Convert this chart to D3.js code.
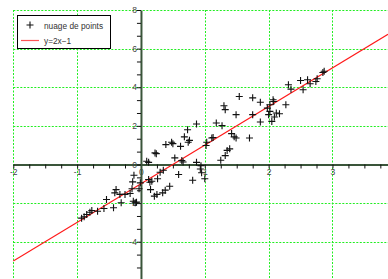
<!DOCTYPE html>
<html><head><meta charset="utf-8">
<script src="https://cdn.jsdelivr.net/npm/d3@7"></script>
<style>body{margin:0;background:#fff}svg{display:block}</style>
</head><body>
<script>
const ptsX = [-0.93,-0.89,-0.85,-0.80,-0.77,-0.68,-0.58,-0.54,-0.43,-0.39,-0.41,-0.33,-0.31,-0.25,-0.17,-0.09,-0.07,-0.11,-0.13,-0.03,-0.12,-0.01,-0.14,
  0.09,0.12,0.22,0.24,0.39,0.50,0.48,0.62,0.74,0.53,0.66,0.87,0.64,0.94,0.93,0.95,0.81,1.00,0.59,0.35,0.30,0.26,0.12,0.14,0.17,0.45,0.38,0.34,0.25,0.15,0.21,
  0.87,0.73,0.68,0.76,1.02,1.13,1.11,1.03,1.18,1.27,1.42,1.46,1.49,1.70,1.39,1.35,1.32,1.25,1.30,1.32,1.54,1.49,1.75,1.87,1.75,1.87,
  2.07,2.08,2.02,1.98,2.02,2.12,2.17,2.00,2.09,2.05,2.27,2.31,2.35,2.50,2.61,2.65,2.74,2.54,2.76,2.85,2.87];
const ptsY = [-2.78,-2.71,-2.59,-2.47,-2.38,-2.42,-2.28,-1.81,-2.24,-1.30,-1.47,-1.55,-1.98,-1.55,-1.50,-1.98,-1.95,-0.56,-0.90,-1.26,-1.90,-0.95,-1.26,
  0.17,0.11,0.60,0.56,1.03,1.08,1.15,0.94,1.15,0.34,0.13,0.11,0.20,-0.06,-0.23,-0.43,-0.82,-0.74,-0.52,-0.30,-0.40,-0.74,-0.78,-0.92,-0.87,-1.13,-1.33,-1.47,-1.55,-1.30,-1.64,
  2.10,1.80,1.43,1.25,0.98,1.40,1.37,1.15,2.15,2.01,1.60,1.43,1.37,1.37,0.81,0.73,0.46,0.22,3.04,2.84,3.52,2.58,3.45,3.22,2.58,2.20,
  3.35,3.26,3.09,2.92,2.75,2.67,2.63,2.58,2.46,2.23,3.09,4.13,3.90,4.35,4.39,4.18,4.30,3.87,4.44,4.76,4.83];
const xTickLabels = [-2,-1,0,1,2,3];
const yTickLabels = [-4,-2,0,2,4,6,8];
const legendLabels = ["nuage de points","y=2x\u22121"];

const W = 388, H = 279;
const svg = d3.select("body").append("svg").attr("width",W).attr("height",H);
const x = d3.scaleLinear().domain([-2,3.87]).range([13.3,388]);
const y = d3.scaleLinear().domain([-5.93,8]).range([279,10]);
const font = "Liberation Sans, Arial, sans-serif";

// grid (below axes)
const grid = svg.append("g").attr("stroke","#22ee22").attr("stroke-width",1).attr("stroke-dasharray","2,1.5");
grid.selectAll(".gv").data(xTickLabels.filter(d=>d!==0)).join("line")
  .attr("x1",d=>Math.round(x(d))+0.5).attr("x2",d=>Math.round(x(d))+0.5).attr("y1",y(8)).attr("y2",H);
grid.selectAll(".gh").data(yTickLabels.filter(d=>d!==0)).join("line")
  .attr("y1",d=>Math.round(y(d))+0.5).attr("y2",d=>Math.round(y(d))+0.5).attr("x1",x(-2)).attr("x2",W);

// axes
const xMinor = d3.range(-8,16).map(i=>i/4);
const yMinor = d3.range(-9,13).map(i=>i*2/3);
const xAxis = d3.axisBottom(x).tickValues(xMinor).tickSize(4).tickSizeOuter(0)
  .tickFormat(d=> xTickLabels.includes(d) ? String(d) : "");
const gx = svg.append("g").attr("transform",`translate(0,${y(0)})`).call(xAxis);
gx.select(".domain").attr("stroke","#3a553a").attr("stroke-width",2);
gx.selectAll(".tick line").attr("stroke","#111");
gx.selectAll(".tick text").attr("font-family",font).attr("font-size",8.5).attr("fill","#444").attr("dy","0.45em");

const yAxis = d3.axisLeft(y).tickValues(yMinor.filter(v=>Math.abs(v-Math.round(v))>1e-6 || Math.round(v)%2!==0).concat(yTickLabels))
  .tickSize(4).tickSizeOuter(0)
  .tickFormat(d=> (Math.abs(d-Math.round(d))<1e-6 && yTickLabels.includes(Math.round(d))) ? String(Math.round(d)) : "");
const gy = svg.append("g").attr("transform",`translate(${x(0)},0)`).call(yAxis);
gy.select(".domain").attr("stroke","#3a553a").attr("stroke-width",2);
gy.selectAll(".tick line").attr("stroke","#111");
gy.selectAll(".tick text").attr("font-family",font).attr("font-size",8.5).attr("fill","#444").attr("x",-4);

// fitted line
const lineX = [-2, 3.87];
svg.append("path").datum(lineX)
  .attr("d", d3.line().x(d=>x(d)).y(d=>y(2*d-1)))
  .attr("stroke","#ff1a1a").attr("stroke-width",1.1).attr("fill","none");

// points
const pts = ptsX.map((v,i)=>[v,ptsY[i]]);
const s = 3.5;
svg.append("g").attr("stroke","#111").attr("stroke-width",1.1).selectAll("path").data(pts).join("path")
  .attr("d",d=>{const cx=x(d[0]),cy=y(d[1]);return `M${cx-s},${cy}H${cx+s}M${cx},${cy-s}V${cy+s}`;});

// legend
const lg = svg.append("g");
lg.append("rect").attr("x",17.5).attr("y",15.5).attr("width",93).attr("height",33)
  .attr("fill","#fff").attr("stroke","#000").attr("stroke-width",1);
lg.append("path").attr("d","M26.5,25H33.5M30,21.5V28.5").attr("stroke","#111").attr("stroke-width",1.1);
lg.append("line").attr("x1",21).attr("x2",39).attr("y1",40.5).attr("y2",40.5).attr("stroke","#ff5555").attr("stroke-width",1.2);
lg.selectAll("text").data(legendLabels).join("text")
  .attr("x",44).attr("y",(d,i)=>28.5+i*15).text(d=>d)
  .attr("font-family",font).attr("font-size",8.3).attr("fill","#333");
</script>
</body></html>
